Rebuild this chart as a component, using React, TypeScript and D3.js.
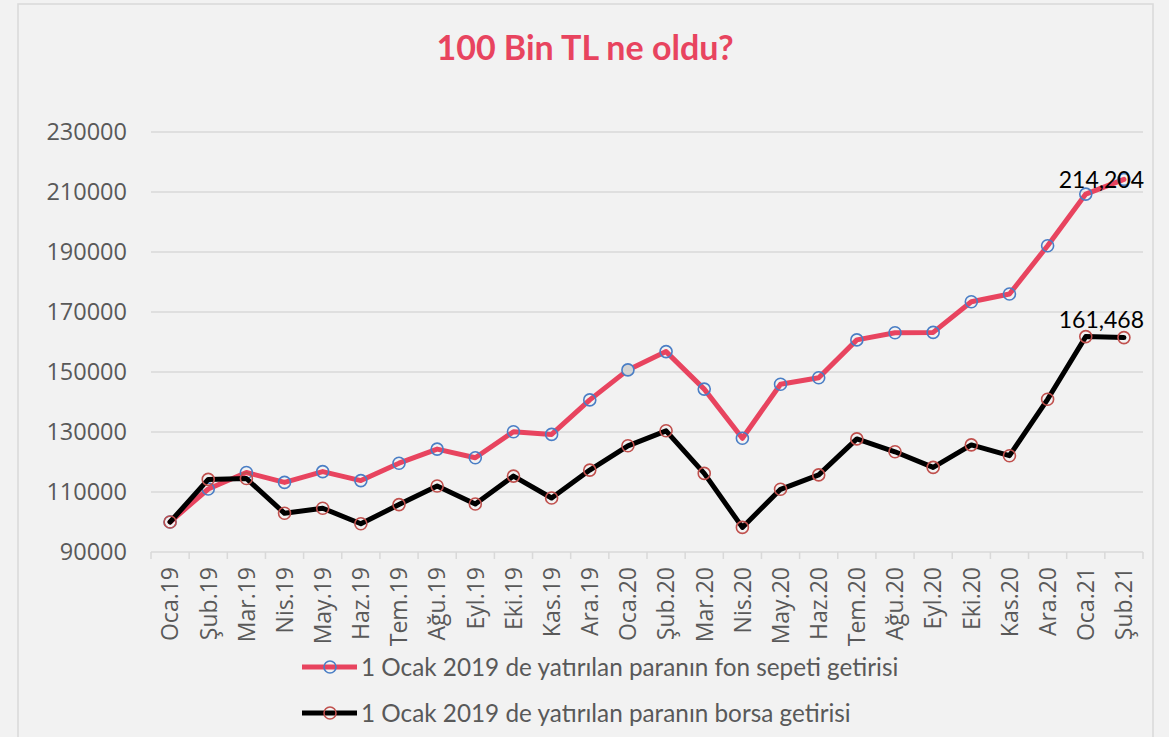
import * as d3 from "d3";

const months = [
  "Oca.19", "Şub.19", "Mar.19", "Nis.19", "May.19", "Haz.19", "Tem.19", "Ağu.19", "Eyl.19", "Eki.19", "Kas.19", "Ara.19",
  "Oca.20", "Şub.20", "Mar.20", "Nis.20", "May.20", "Haz.20", "Tem.20", "Ağu.20", "Eyl.20", "Eki.20", "Kas.20", "Ara.20",
  "Oca.21", "Şub.21",
];

const fonValues = [
  100000, 111000, 116500, 113200, 116800, 113800, 119600, 124300, 121400, 130100, 129200, 140700,
  150700, 156800, 144300, 127900, 145900, 148100, 160700, 163100, 163200, 173400, 176000, 192100,
  209300, 214204,
];

const borsaValues = [
  100000, 114200, 114500, 102900, 104600, 99400, 105800, 112000, 106000, 115300, 108000, 117300,
  125400, 130400, 116200, 98200, 110900, 115700, 127700, 123400, 118200, 125700, 122100, 140900,
  161800, 161468,
];

const yTicks = [90000, 110000, 130000, 150000, 170000, 190000, 210000, 230000];

const seriesNames = [
  "1 Ocak 2019 de yatırılan paranın fon sepeti getirisi",
  "1 Ocak 2019 de yatırılan paranın borsa getirisi",
];

const W = 1169,
  H = 737;
const PINK = "#E8445F";
const GREY = "#595959";
const GRID = "#d9d9d9";
const axisFont = "'Open Sans', sans-serif";
const textFont = "Lato, 'Open Sans', sans-serif";

export default function App() {
  const x = d3.scaleBand<string>().domain(months).range([151, 1143]);
  const y = d3.scaleLinear().domain([90000, 230000]).range([552, 132]);
  const cx = (m: string) => (x(m) ?? 0) + x.bandwidth() / 2;

  const line = d3
    .line<number>()
    .x((_, i) => cx(months[i]))
    .y((d) => y(d));

  const fmt = d3.format(",");
  const last = months.length - 1;

  const series = [
    { values: fonValues, stroke: PINK, marker: "#4A7EC5" },
    { values: borsaValues, stroke: "#000", marker: "#C0504D" },
  ];

  return (
    <svg
      width={W}
      height={H}
      style={{ position: "fixed", left: 0, top: 0, display: "block", background: "#f2f2f2" }}
    >
      <rect x={18} y={4} width={1135} height={H + 10} fill="#f2f2f2" stroke={GRID} strokeWidth={1.5} />

      <text
        x={585}
        y={60}
        textAnchor="middle"
        fill={PINK}
        fontFamily={textFont}
        fontWeight="bold"
        fontSize={34}
      >
        100 Bin TL ne oldu?
      </text>

      {/* grid + y labels */}
      {yTicks.map((t) => (
        <g key={t}>
          <line x1={151} x2={1143} y1={y(t)} y2={y(t)} stroke={GRID} strokeWidth={1.5} />
          <text
            x={127}
            y={y(t)}
            dy="0.36em"
            textAnchor="end"
            fill={GREY}
            fontFamily={axisFont}
            fontSize={23.5}
          >
            {t}
          </text>
        </g>
      ))}

      {/* x ticks */}
      {months.concat([""]).map((m, i) => {
        const xx = 151 + i * x.step();
        return <line key={"t" + i} x1={xx} x2={xx} y1={552} y2={559} stroke={GRID} strokeWidth={1.5} />;
      })}
      {months.map((m) => (
        <text
          key={m}
          transform={`translate(${cx(m)},567) rotate(-90)`}
          dy="0.36em"
          textAnchor="end"
          fill={GREY}
          fontFamily={axisFont}
          fontSize={23}
        >
          {m}
        </text>
      ))}

      {/* series */}
      {series.map((s, si) => (
        <g key={si}>
          <path
            d={line(s.values) ?? ""}
            fill="none"
            stroke={s.stroke}
            strokeWidth={5}
            strokeLinejoin="round"
            strokeLinecap="round"
          />
          {s.values.map((v, i) => (
            <circle
              key={i}
              cx={cx(months[i])}
              cy={y(v)}
              r={6}
              fill={si === 0 && months[i] === "Oca.20" ? "#d4d4d4" : "none"}
              stroke={s.marker}
              strokeWidth={1.6}
            />
          ))}
        </g>
      ))}

      {/* data labels */}
      <text x={1144} y={y(fonValues[last]) + 9} textAnchor="end" fill="#000" fontFamily={textFont} fontSize={23}>
        {fmt(fonValues[last])}
      </text>
      <text x={1144} y={y(borsaValues[last]) - 10} textAnchor="end" fill="#000" fontFamily={textFont} fontSize={23}>
        {fmt(borsaValues[last])}
      </text>

      {/* legend */}
      {series.map((s, si) => {
        const ly = 667 + si * 46;
        return (
          <g key={"l" + si}>
            <line x1={302} x2={357} y1={ly} y2={ly} stroke={s.stroke} strokeWidth={5} />
            <circle cx={330} cy={ly} r={6} fill="none" stroke={s.marker} strokeWidth={1.6} />
            <text x={361} y={ly} dy="0.35em" fill={GREY} fontFamily={textFont} fontSize={24.3}>
              {seriesNames[si]}
            </text>
          </g>
        );
      })}
    </svg>
  );
}
